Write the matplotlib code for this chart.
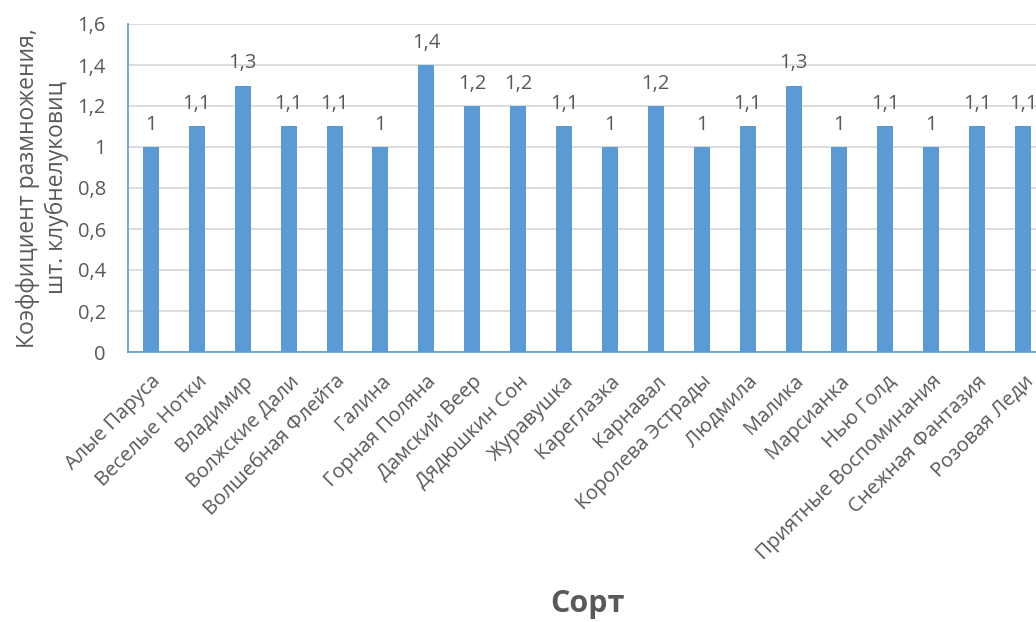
import numpy as np
import matplotlib
matplotlib.use("Agg")
import matplotlib.pyplot as plt
from matplotlib.ticker import FuncFormatter, MultipleLocator

plt.rcParams['font.family'] = ['Open Sans', 'DejaVu Sans']

# сорта и коэффициент размножения
sorts = ['Алые Паруса', 'Веселые Нотки', 'Владимир', 'Волжские Дали',
         'Волшебная Флейта', 'Галина', 'Горная Поляна', 'Дамский Веер',
         'Дядюшкин Сон', 'Журавушка', 'Кареглазка', 'Карнавал',
         'Королева Эстрады', 'Людмила', 'Малика', 'Марсианка', 'Нью Голд',
         'Приятные Воспоминания', 'Снежная Фантазия', 'Розовая Леди']
coef = [1, 1.1, 1.3, 1.1, 1.1, 1, 1.4, 1.2, 1.2, 1.1,
        1, 1.2, 1, 1.1, 1.3, 1, 1.1, 1, 1.1, 1.1]

blue = '#5b9bd5'
txt = '#595959'

def comma(v):
    s = f'{v:g}'
    return s.replace('.', ',')

fig = plt.figure(figsize=(10.36, 6.22), dpi=100)
# the plot area runs past the right edge of the figure
ax = fig.add_axes([128 / 1036, 1 - 352 / 622, 918 / 1036, 328 / 622])

x = np.arange(len(sorts))
bars = ax.bar(x, coef, width=0.35, color=blue, zorder=3)
for xi, v in zip(x, coef):
    ax.text(xi, v + 0.06, comma(v), ha='center', va='bottom',
            fontsize=14.5, color=txt)

ax.set_xlim(-0.5, len(sorts) - 0.5)
ax.set_ylim(0, 1.6)
ax.yaxis.set_major_locator(MultipleLocator(0.2))
ax.yaxis.set_major_formatter(FuncFormatter(lambda v, p: comma(round(v, 1))))
ax.grid(axis='y', color='#d9d9d9', linewidth=1.3, zorder=0)

for side in ['top', 'right']:
    ax.spines[side].set_visible(False)
for side in ['left', 'bottom']:
    ax.spines[side].set_color(blue)
    ax.spines[side].set_linewidth(1.2)
    ax.spines[side].set_zorder(4)

ax.tick_params(axis='both', length=0, colors=txt, labelsize=14.5)
ax.tick_params(axis='y', pad=16)
ax.set_xticks(x)
ax.set_xticklabels(sorts, rotation=45, ha='right', rotation_mode='anchor',
                   fontsize=14.5, color=txt)
ax.tick_params(axis='x', pad=14)

ax.set_ylabel('Коэффициент размножения,\nшт. клубнелуковиц',
              fontsize=16.5, color=txt, labelpad=6, linespacing=1.25)
ax.set_xlabel('Сорт', fontsize=22, fontweight='bold', color=txt,
              va='center')
ax.xaxis.set_label_coords(0.5, -0.768)

fig.savefig('out.png', dpi=100)
